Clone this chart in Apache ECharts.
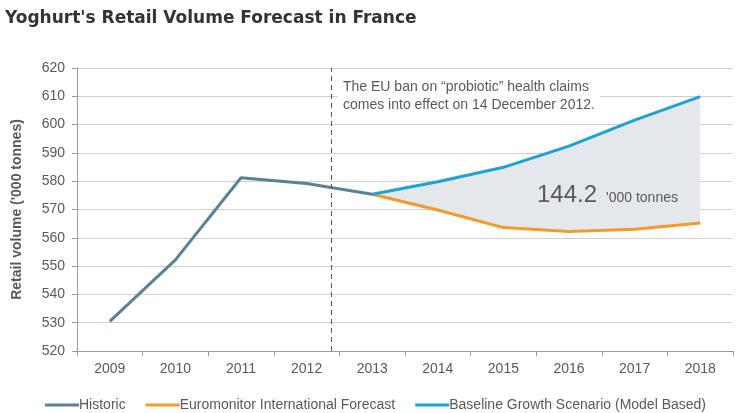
<!DOCTYPE html>
<html>
<head>
<meta charset="utf-8">
<script src="https://cdn.jsdelivr.net/npm/echarts@6/dist/echarts.min.js"></script>
<style>
  html, body { margin: 0; padding: 0; background: #fff; }
  #container { width: 740px; height: 413px; }
</style>
</head>
<body>
<div id="container"></div>
<script>
// years on the x axis
let years = ['2009', '2010', '2011', '2012', '2013', '2014', '2015', '2016', '2017', '2018'];

// '000 tonnes
let historic = [530.5, 552.2, 581.2, 579.2, 575.4, null, null, null, null, null];
let forecast = [null, null, null, null, 575.4, 569.8, 563.6, 562.2, 563.0, 565.2];
let baseline = [null, null, null, null, 575.4, 579.8, 584.9, 592.4, 601.6, 609.9];

// gap between baseline and forecast, for the shaded band
let gap = baseline.map((b, i) => (b == null || forecast[i] == null) ? null : +(b - forecast[i]).toFixed(1));

// 14 Dec 2012 as a position on the category index scale
let banPos = 3.37;

let grey = '#595959';

let dom = document.getElementById('container');
let chart = echarts.init(dom);

chart.setOption({
    animation: false,
    textStyle: { fontFamily: 'Liberation Sans, Arial, sans-serif' },
    title: {
        text: "Yoghurt's Retail Volume Forecast in France",
        left: 0,
        top: 5,
        textStyle: {
            fontFamily: 'DejaVu Sans',
            fontWeight: 'bold',
            fontSize: 17,
            color: '#333'
        }
    },
    legend: {
        left: 40,
        top: 393,
        itemWidth: 34,
        itemHeight: 3,
        itemGap: 20,
        icon: 'rect',
        textStyle: { color: grey, fontSize: 14, padding: [0, 0, 0, -5] },
        data: ['Historic', 'Euromonitor International Forecast', 'Baseline Growth Scenario (Model Based)']
    },
    grid: { left: 77, right: 7, top: 68, bottom: 62 },
    xAxis: [{
        type: 'category',
        data: years,
        boundaryGap: true,
        axisLine: { lineStyle: { color: '#999' } },
        axisTick: { show: true, length: 5, lineStyle: { color: '#999' } },
        axisLabel: { color: grey, fontSize: 14, margin: 11 }
    }, {
        type: 'value',
        min: -0.5,
        max: 9.5,
        show: false
    }],
    yAxis: {
        type: 'value',
        min: 520,
        max: 620,
        interval: 10,
        name: "Retail volume ('000 tonnes)",
        nameLocation: 'middle',
        nameGap: 53,
        nameTextStyle: { color: grey, fontSize: 14, fontWeight: 'bold' },
        axisLine: { show: true, onZero: false, lineStyle: { color: '#999' } },
        axisTick: { show: true, length: 5, lineStyle: { color: '#999' } },
        axisLabel: { color: grey, fontSize: 14, margin: 12 },
        splitLine: { lineStyle: { color: '#d0d0d0' } }
    },
    series: [{
        name: 'band-base',
        type: 'line',
        stack: 'band',
        data: forecast,
        symbol: 'none',
        lineStyle: { width: 0, opacity: 0 },
        silent: true,
        z: 1
    }, {
        name: 'band-gap',
        type: 'line',
        stack: 'band',
        data: gap,
        symbol: 'none',
        lineStyle: { width: 0, opacity: 0 },
        areaStyle: { color: '#e4e8ec', opacity: 1 },
        silent: true,
        z: 1
    }, {
        name: 'Historic',
        type: 'line',
        data: historic,
        symbol: 'none',
        color: '#5b8196',
        lineStyle: { width: 3 },
        z: 3
    }, {
        name: 'Euromonitor International Forecast',
        type: 'line',
        data: forecast,
        symbol: 'none',
        color: '#f39a2b',
        lineStyle: { width: 3 },
        z: 3
    }, {
        name: 'Baseline Growth Scenario (Model Based)',
        type: 'line',
        data: baseline,
        symbol: 'none',
        color: '#1ca3d3',
        lineStyle: { width: 3 },
        z: 3
    }, {
        name: 'ban',
        type: 'line',
        xAxisIndex: 1,
        data: [],
        markLine: {
            silent: true,
            symbol: 'none',
            label: { show: false },
            lineStyle: { color: '#555', type: [5, 4], width: 1 },
            data: [{ xAxis: banPos }]
        },
        z: 2
    }],
    graphic: [{
        type: 'text',
        left: 338,
        top: 76,
        z: 10,
        style: {
            text: 'The EU ban on \u201cprobiotic\u201d health claims\ncomes into effect on 14 December 2012.',
            fill: grey,
            font: '14px Liberation Sans, Arial, sans-serif',
            lineHeight: 18,
            backgroundColor: '#fff',
            padding: [2, 5, 2, 5]
        }
    }, {
        type: 'text',
        left: 537,
        top: 183,
        z: 10,
        style: {
            text: '144.2',
            fill: grey,
            font: '24px Liberation Sans, Arial, sans-serif'
        }
    }, {
        type: 'text',
        left: 606,
        top: 191,
        z: 10,
        style: {
            text: "'000 tonnes",
            fill: grey,
            font: '14px Liberation Sans, Arial, sans-serif'
        }
    }]
});
</script>
</body>
</html>
